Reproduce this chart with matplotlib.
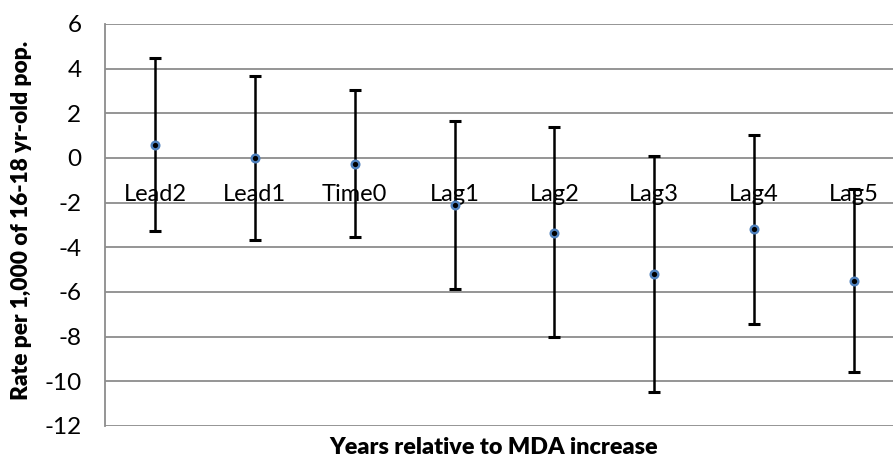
import matplotlib
matplotlib.use("Agg")
import matplotlib.pyplot as plt
import numpy as np

categories = ["Lead2", "Lead1", "Time0", "Lag1", "Lag2", "Lag3", "Lag4", "Lag5"]
estimates = [0.6, 0.0, -0.25, -2.1, -3.35, -5.2, -3.2, -5.5]
upper = [4.5, 3.65, 3.05, 1.67, 1.37, 0.07, 1.01, -1.4]
lower = [-3.27, -3.65, -3.52, -5.85, -8.03, -10.47, -7.43, -9.6]
yticks = [6, 4, 2, 0, -2, -4, -6, -8, -10, -12]

plt.rcParams['font.family'] = ['Lato', 'DejaVu Sans']

W, H = 893, 462
fig = plt.figure(figsize=(W / 100, H / 100), dpi=100)
left, right, top, bottom = 105, 904, 24, 426
ax = fig.add_axes([left / W, (H - bottom) / H, (right - left) / W, (bottom - top) / H])

x = np.arange(len(categories))
est = np.array(estimates)
yerr = np.vstack([est - np.array(lower), np.array(upper) - est])

ax.set_xlim(-0.5, len(categories) - 0.5)
ax.set_ylim(-12, 6)
ax.set_yticks(yticks)
ax.set_yticklabels([str(t) for t in yticks], fontsize=17.5)
ax.tick_params(axis='y', length=0, pad=17)
ax.set_xticks([])

for t in yticks:
    ax.axhline(t, color='#8c8c8c', lw=1.3, zorder=0)
for s in ['top', 'right', 'bottom']:
    ax.spines[s].set_visible(False)
ax.spines['left'].set_color('#8c8c8c')
ax.spines['left'].set_linewidth(1.3)

ax.errorbar(x, est, yerr=yerr, fmt='none', ecolor='black', elinewidth=1.8,
            capsize=4, capthick=2.2, zorder=2)
ax.plot(x, est, 'o', ms=5.5, mfc='black', mec='#4f81bd', mew=1.7, zorder=3, ls='none')

for xi, lab in zip(x, categories):
    ax.text(xi, -1.62, lab, ha='center', va='center', fontsize=17, zorder=1)

fig.text(22 / W, 1 - 220 / H, "Rate per 1,000 of 16-18 yr-old pop.", rotation=90,
         ha='center', va='center', fontsize=16.3, fontweight='heavy')
fig.text(494 / W, 1 - 448 / H, "Years relative to MDA increase",
         ha='center', va='center', fontsize=16.8, fontweight='heavy')

fig.savefig("out.png", dpi=100)
